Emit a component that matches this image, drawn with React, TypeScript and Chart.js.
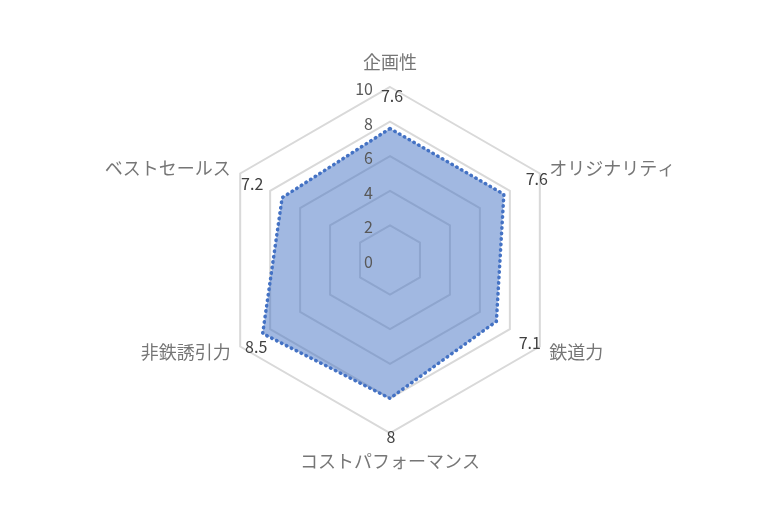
import { useEffect, useRef } from 'react';
import { Chart, registerables, Plugin } from 'chart.js';

Chart.register(...registerables);

// Chart data
const categories = ['企画性', 'オリジナリティ', '鉄道力', 'コストパフォーマンス', '非鉄誘引力', 'ベストセールス'];
const scores = [7.6, 7.6, 7.1, 8, 8.5, 7.2];
const tickValues = [0, 2, 4, 6, 8, 10];

const FONT = '"Noto Sans CJK JP", "Noto Sans", sans-serif';

// Excel-style labels: ticks left of the vertical axis, category names, value labels
const labelPlugin: Plugin<'radar'> = {
  id: 'excelLabels',
  afterDatasetsDraw(chart) {
    const scale: any = chart.scales.r;
    const ctx = chart.ctx;
    const R = scale.drawingArea;
    ctx.save();

    // tick labels
    ctx.font = `16px ${FONT}`;
    ctx.fillStyle = '#595959';
    ctx.textAlign = 'right';
    ctx.textBaseline = 'middle';
    tickValues.forEach((v) => {
      const d = scale.getDistanceFromCenterForValue(v);
      ctx.fillText(String(v), scale.xCenter - 17, scale.yCenter - d + 2);
    });

    // category labels
    ctx.font = `18px ${FONT}`;
    ctx.fillStyle = '#767676';
    categories.forEach((label, i) => {
      let dist = R + 11;
      let align: CanvasTextAlign = 'center';
      if (i === 0) dist = R + 25;
      else if (i === 3) dist = R + 28;
      else if (i === 1 || i === 2) align = 'left';
      else align = 'right';
      const p = scale.getPointPosition(i, dist);
      ctx.textAlign = align;
      ctx.fillText(label, p.x, p.y);
    });

    // value labels
    const offsets = [[2, 9], [-3, 5], [-10, -4], [1, 4], [16, 0], [12, 10]];
    ctx.font = `16px ${FONT}`;
    ctx.fillStyle = '#404040';
    ctx.textAlign = 'center';
    scores.forEach((v, i) => {
      const p = scale.getPointPosition(i, scale.getDistanceFromCenterForValue(10));
      ctx.fillText(String(v), p.x + offsets[i][0], p.y + offsets[i][1]);
    });

    ctx.restore();
  },
};

export default function App() {
  const canvasRef = useRef<HTMLCanvasElement>(null);
  const chartRef = useRef<Chart<'radar'> | null>(null);

  useEffect(() => {
    document.body.style.margin = '0';
    if (!canvasRef.current) return;
    if (chartRef.current) chartRef.current.destroy();

    chartRef.current = new Chart(canvasRef.current, {
      type: 'radar',
      data: {
        labels: categories,
        datasets: [{
          data: scores,
          backgroundColor: 'rgba(68, 114, 196, 0.5)',
          borderColor: '#4472c4',
          borderWidth: 3.5,
          borderCapStyle: 'round',
          borderDash: [0.5, 5],
          pointRadius: 0,
          fill: true,
        }],
      },
      options: {
        responsive: false,
        animation: false,
        layout: { padding: { top: 87, bottom: 87, left: 0, right: 0 } },
        plugins: {
          legend: { display: false },
          tooltip: { enabled: false },
        },
        scales: {
          r: {
            min: 0,
            max: 10,
            ticks: { stepSize: 2, display: false },
            grid: { color: '#d9d9d9', lineWidth: 2 },
            angleLines: { display: false },
            pointLabels: { display: false },
          },
        },
      },
      plugins: [labelPlugin],
    });

    return () => {
      chartRef.current?.destroy();
      chartRef.current = null;
    };
  }, []);

  return (
    <div style={{ width: 780, height: 520, background: '#fff' }}>
      <canvas ref={canvasRef} width={780} height={520}></canvas>
    </div>
  );
}
